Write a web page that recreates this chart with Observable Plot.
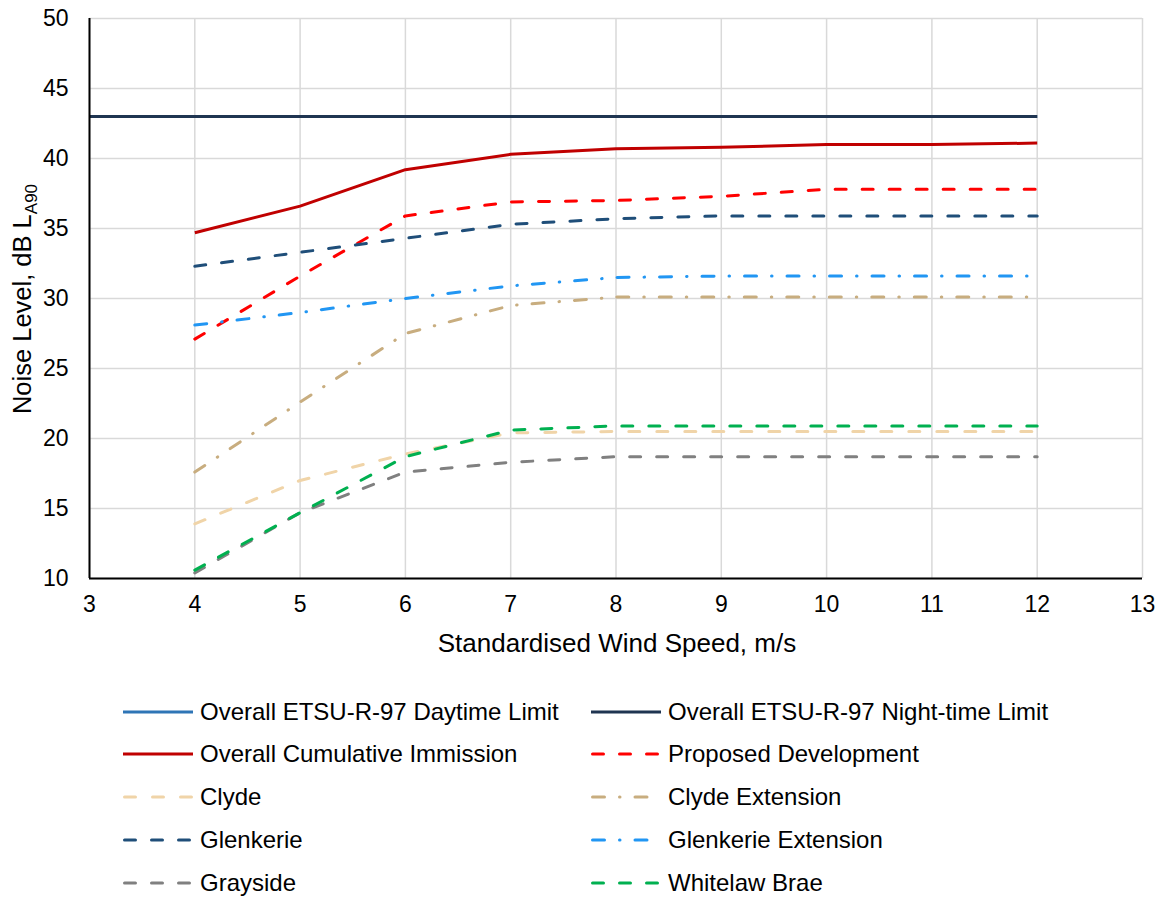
<!DOCTYPE html>
<html>
<head>
<meta charset="utf-8">
<script src="https://cdn.jsdelivr.net/npm/d3@7"></script>
<script src="https://cdn.jsdelivr.net/npm/@observablehq/plot@0.6"></script>
<style>
  html, body { margin: 0; padding: 0; background: #fff; }
  #wrap { position: relative; width: 1166px; height: 898px; font-family: "Liberation Sans", Arial, sans-serif; }
  #legend { position: absolute; left: 0; top: 690px; width: 1166px; }
  .item { position: absolute; display: flex; align-items: center; height: 43px; font-size: 24px; color: #000; white-space: nowrap; }
  .item svg { margin-right: 7px; }
</style>
</head>
<body>
<div id="wrap">
  <div id="chart"></div>
  <div id="legend"></div>
</div>
<script>
// ---- data ----
const xTicks = [3, 4, 5, 6, 7, 8, 9, 10, 11, 12, 13];
const yTicks = [10, 15, 20, 25, 30, 35, 40, 45, 50];
const limitSpeeds = [3, 4, 5, 6, 7, 8, 9, 10, 11, 12];
const speeds = [4, 5, 6, 7, 8, 9, 10, 11, 12];

const daytimeLimit   = [43, 43, 43, 43, 43, 43, 43, 43, 43, 43];
const nightLimit     = [43, 43, 43, 43, 43, 43, 43, 43, 43, 43];
const cumulative     = [34.7, 36.6, 39.2, 40.3, 40.7, 40.8, 41.0, 41.0, 41.1];
const proposed       = [27.1, 31.6, 35.9, 36.9, 37.0, 37.3, 37.8, 37.8, 37.8];
const clyde          = [13.9, 17.0, 18.9, 20.4, 20.5, 20.5, 20.5, 20.5, 20.5];
const clydeExt       = [17.6, 22.6, 27.5, 29.5, 30.1, 30.1, 30.1, 30.1, 30.1];
const glenkerie      = [32.3, 33.3, 34.3, 35.3, 35.7, 35.9, 35.9, 35.9, 35.9];
const glenkerieExt   = [28.1, 29.0, 30.0, 30.9, 31.5, 31.6, 31.6, 31.6, 31.6];
const grayside       = [10.4, 14.7, 17.6, 18.3, 18.7, 18.7, 18.7, 18.7, 18.7];
const whitelaw       = [10.6, 14.7, 18.7, 20.6, 20.9, 20.9, 20.9, 20.9, 20.9];

const seriesNames = [
  "Overall ETSU-R-97 Daytime Limit", "Overall ETSU-R-97 Night-time Limit",
  "Overall Cumulative Immission", "Proposed Development",
  "Clyde", "Clyde Extension",
  "Glenkerie", "Glenkerie Extension",
  "Grayside", "Whitelaw Brae"
];
const seriesX = [limitSpeeds, limitSpeeds, speeds, speeds, speeds, speeds, speeds, speeds, speeds, speeds];
const seriesY = [daytimeLimit, nightLimit, cumulative, proposed, clyde, clydeExt, glenkerie, glenkerieExt, grayside, whitelaw];

// ---- styles ----
const seriesColors = ["#2e75b6", "#1f3551", "#c00000", "#ff0000", "#f0d4a8", "#c8ad7f", "#1f4e79", "#2196f3", "#808080", "#00b050"];
const DASH = "11,16", DASH2 = "11,17", DASHDOT = "12,15,0.5,15";
const seriesDash = [null, null, null, DASH, DASH2, DASHDOT, DASH, DASHDOT, DASH, DASH];

const rows = [];
seriesNames.forEach((name, i) => {
  seriesX[i].forEach((x, j) => rows.push({series: name, x, y: seriesY[i][j]}));
});

const lineMarks = seriesNames.map((name, i) =>
  Plot.line(rows.filter(d => d.series === name), {
    x: "x", y: "y",
    stroke: seriesColors[i],
    strokeWidth: 3,
    strokeDasharray: seriesDash[i] || undefined,
    strokeLinecap: seriesDash[i] ? "round" : "butt",
    strokeLinejoin: "round"
  })
);

const chart = Plot.plot({
  width: 1166,
  height: 665,
  marginLeft: 89,
  marginRight: 24,
  marginTop: 18,
  marginBottom: 87,
  style: {fontFamily: "'Liberation Sans', Arial, sans-serif", fontSize: "23px", color: "#000", background: "#fff", overflow: "visible"},
  x: {domain: [3, 13], ticks: xTicks, tickSize: 0, tickPadding: 17, label: null},
  y: {domain: [10, 50], ticks: yTicks, tickSize: 0, tickPadding: 21, label: null},
  marks: [
    Plot.ruleX(xTicks, {stroke: "#d9d9d9", strokeWidth: 1.5}),
    Plot.ruleY(yTicks, {stroke: "#d9d9d9", strokeWidth: 1.5}),
    ...lineMarks,
    Plot.ruleX([3], {stroke: "#000", strokeWidth: 2}),
    Plot.ruleY([10], {stroke: "#000", strokeWidth: 2})
  ]
});
document.getElementById("chart").appendChild(chart);

// axis titles
const svg = d3.select(chart);
svg.append("text")
  .attr("x", 617).attr("y", 652)
  .attr("text-anchor", "middle")
  .style("font-size", "26px")
  .attr("fill", "#000")
  .text("Standardised Wind Speed, m/s");
const yl = svg.append("text")
  .attr("transform", "translate(31,299) rotate(-90)")
  .attr("text-anchor", "middle")
  .style("font-size", "25.5px")
  .attr("fill", "#000");
yl.append("tspan").text("Noise Level, dB L");
yl.append("tspan").attr("dy", 6).style("font-size", "17px").text("A90");

// legend
const legend = d3.select("#legend");
const colLeft = [123, 591];
const rowH = 42.75;
seriesNames.forEach((name, i) => {
  const col = i % 2, row = Math.floor(i / 2);
  const item = legend.append("div").attr("class", "item")
    .style("left", colLeft[col] + "px")
    .style("top", (row * rowH) + "px");
  const sw = item.append("svg").attr("width", 70).attr("height", 12);
  sw.append("line")
    .attr("x1", seriesDash[i] ? 1.5 : 0).attr("x2", seriesDash[i] ? 68.5 : 70)
    .attr("y1", 6).attr("y2", 6)
    .attr("stroke", seriesColors[i]).attr("stroke-width", 3)
    .attr("stroke-dasharray", seriesDash[i])
    .attr("stroke-linecap", seriesDash[i] ? "round" : "butt");
  item.append("span").text(name);
});
</script>
</body>
</html>
